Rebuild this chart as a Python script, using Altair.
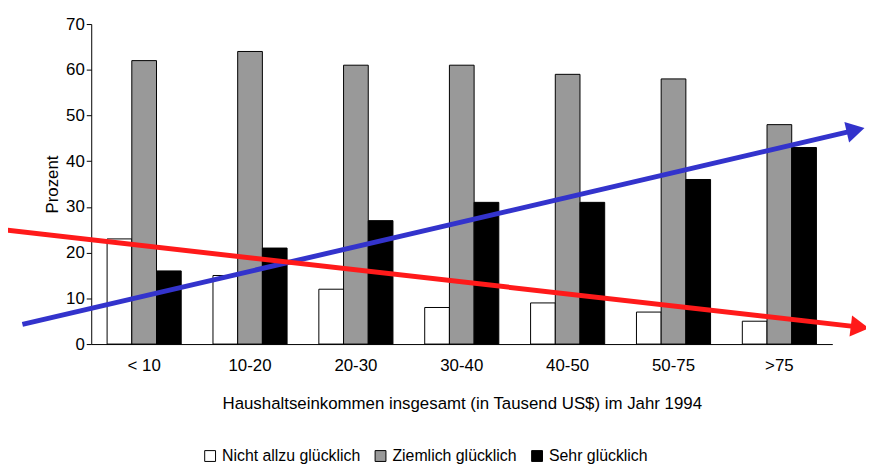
import pandas as pd
import altair as alt

categories = ["< 10", "10-20", "20-30", "30-40", "40-50", "50-75", ">75"]
series = ["Nicht allzu glücklich", "Ziemlich glücklich", "Sehr glücklich"]
nicht = [23, 15, 12, 8, 9, 7, 5]
ziemlich = [62, 64, 61, 61, 59, 58, 48]
sehr = [16, 21, 27, 31, 31, 36, 43]

# trend arrows (x in category units, 0 = left edge of plot, 7 = right edge)
blue_x = [-0.65, 7.22]
blue_y = [4.3, 46.8]
red_x = [-0.79, 7.26]
red_y = [24.9, 3.7]

rows = []
for i, c in enumerate(categories):
    for s, vals in zip(series, [nicht, ziemlich, sehr]):
        rows.append({"cat": c, "series": s, "value": vals[i]})
df = pd.DataFrame(rows)

bars = alt.Chart(df).mark_bar(stroke="black", strokeWidth=1).encode(
    x=alt.X("cat:N", sort=categories, scale=alt.Scale(paddingInner=0.3, paddingOuter=0.15),
            axis=alt.Axis(title="Haushaltseinkommen insgesamt (in Tausend US$) im Jahr 1994",
                          labelAngle=0, ticks=False, domainColor="black", labelPadding=14,
                          titlePadding=22)),
    xOffset=alt.XOffset("series:N", sort=series),
    y=alt.Y("value:Q", scale=alt.Scale(domain=[0, 70]),
            axis=alt.Axis(title="Prozent", values=list(range(0, 71, 10)), grid=False,
                          domainColor="black", tickColor="black", titlePadding=4)),
    color=alt.Color("series:N", sort=series,
                    scale=alt.Scale(domain=series, range=["white", "#999999", "black"]),
                    legend=alt.Legend(title=None, orient="none", legendX=112, legendY=428,
                                      direction="horizontal", symbolType="square",
                                      symbolStrokeColor="black", symbolStrokeWidth=1,
                                      symbolSize=120, labelFontSize=16, columnPadding=12)),
)

def arrow(xs, ys, color, angle):
    d = pd.DataFrame({"x": xs, "y": ys})
    sc = alt.Scale(domain=[0, 7])
    line = alt.Chart(d).mark_line(color=color, strokeWidth=5, clip=False).encode(
        x=alt.X("x:Q", scale=sc, axis=None),
        y=alt.Y("y:Q", scale=alt.Scale(domain=[0, 70]), axis=None))
    head = alt.Chart(d.iloc[[1]]).mark_point(shape="triangle-right", filled=True, color=color,
                                            size=450, opacity=1, angle=angle, clip=False).encode(
        x=alt.X("x:Q", scale=sc, axis=None),
        y=alt.Y("y:Q", scale=alt.Scale(domain=[0, 70]), axis=None))
    return line + head

chart = alt.layer(bars, arrow(blue_x, blue_y, "#3333cc", 347),
                  arrow(red_x, red_y, "#ff1a1a", 7)).resolve_scale(
    x="independent").resolve_axis(y="independent").properties(
    width=748, height=323, autosize=alt.AutoSizeParams(type="none"),
    padding={"left": 84, "top": 14, "right": 34, "bottom": 135}
).configure_view(stroke=None).configure_axis(
    labelFont="Liberation Sans", titleFont="Liberation Sans", labelFontSize=17,
    titleFontSize=17, titleFontWeight="normal", labelColor="black", titleColor="black"
).configure_legend(labelFont="Liberation Sans", labelColor="black")

chart.save("out.html", embed_options={"renderer": "svg", "actions": False})
